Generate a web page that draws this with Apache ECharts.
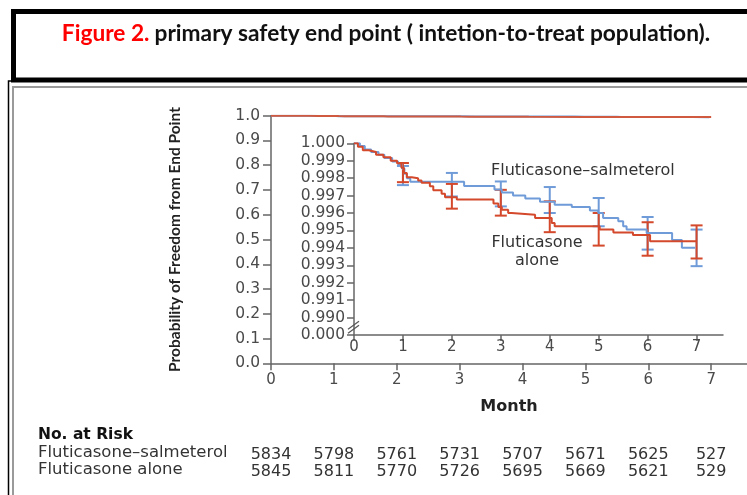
<!DOCTYPE html>
<html>
<head>
<meta charset="utf-8">
<title>Figure 2</title>
<script src="https://cdn.jsdelivr.net/npm/echarts@6.0.0/dist/echarts.min.js"></script>
<style>
  html, body { margin: 0; padding: 0; background: #fff; }
  #chart { width: 747px; height: 495px; }
</style>
</head>
<body>
<div id="chart"></div>
<script>
// months on the x axes
const months = [0, 1, 2, 3, 4, 5, 6, 7]

// Kaplan-Meier steps: [month of drop, survival after drop]
const salmeterolSteps = [
    [0, 1], [0.12, 0.99985], [0.22, 0.99965], [0.35, 0.9995], [0.5, 0.99935],
    [0.62, 0.99915], [0.78, 0.99895], [0.9, 0.9988], [0.98, 0.99855], [1.03, 0.99825],
    [1.08, 0.998], [1.15, 0.9978], [2.25, 0.99755], [2.87, 0.99735], [3.02, 0.99718],
    [3.25, 0.997], [3.5, 0.99683], [3.8, 0.99665], [4.1, 0.99648], [4.45, 0.99635],
    [4.82, 0.99615], [4.99, 0.996], [5.09, 0.99572], [5.4, 0.99552], [5.5, 0.99524],
    [5.57, 0.99505], [5.98, 0.99486], [6.5, 0.99445], [6.7, 0.994], [6.97, 0.994]
]
const aloneSteps = [
    [0, 1], [0.08, 0.9998], [0.18, 0.9996], [0.3, 0.9995], [0.45, 0.99935],
    [0.6, 0.9992], [0.75, 0.999], [0.88, 0.99885], [0.97, 0.9986], [1.02, 0.9983],
    [1.08, 0.99805], [1.18, 0.998], [1.31, 0.99787], [1.38, 0.99773], [1.55, 0.99754],
    [1.62, 0.9973], [1.79, 0.9971], [1.86, 0.99691], [2.1, 0.99678], [2.85, 0.99655],
    [2.95, 0.99635], [3.02, 0.99619], [3.15, 0.996], [3.22, 0.9959], [3.7, 0.99571],
    [4.04, 0.99543], [4.1, 0.99524], [5.02, 0.99505], [5.3, 0.99488], [5.7, 0.99474],
    [6.05, 0.99438], [7.0, 0.99438]
]

// 95% CI bars: [month, low, high]
const salmeterolCI = [
    [1, 0.9976, 0.9987], [2, 0.99695, 0.9983], [3, 0.99638, 0.99781], [4, 0.996, 0.99749],
    [5, 0.99524, 0.99686], [6, 0.9939, 0.99577], [7, 0.99295, 0.99505]
]
const aloneCI = [
    [1, 0.99777, 0.99887], [2, 0.99625, 0.99767], [3, 0.99585, 0.99733], [4, 0.9949, 0.99667],
    [5, 0.99413, 0.996], [6, 0.99355, 0.99547], [7, 0.99339, 0.99529]
]

// numbers at risk
const riskSalmeterol = ['5834', '5798', '5761', '5731', '5707', '5671', '5625', '527']
const riskAlone = ['5845', '5811', '5770', '5726', '5695', '5669', '5621', '529']

const blue = '#6f9bd8'
const red = '#d4482b'
const axisGray = '#666'
const labelGray = '#4a4a4a'
const font = '"DejaVu Sans"'
const boldFont = 'Lato'

function ciBar(color) {
    return function (params, api) {
        const x = api.value(0)
        const top = api.coord([x, api.value(2)])
        const bot = api.coord([x, api.value(1)])
        const w = 6
        const style = { stroke: color, lineWidth: 2 }
        return {
            type: 'group',
            children: [
                { type: 'line', shape: { x1: top[0], y1: top[1], x2: bot[0], y2: bot[1] }, style },
                { type: 'line', shape: { x1: top[0] - w, y1: top[1], x2: top[0] + w, y2: top[1] }, style },
                { type: 'line', shape: { x1: bot[0] - w, y1: bot[1], x2: bot[0] + w, y2: bot[1] }, style }
            ]
        }
    }
}

let myChart = echarts.init(document.getElementById('chart'))
let option = {
    backgroundColor: '#FFFFFF',
    animation: false,
    title: {
        text: '{r|Figure 2.} {b|primary safety end point ( intetion-to-treat population).}',
        left: 381,
        textAlign: 'center',
        top: 17,
        textStyle: {
            rich: {
                r: { color: '#ff0000', fontFamily: boldFont, fontWeight: 'bold', fontSize: 22.7 },
                b: { color: '#111', fontFamily: boldFont, fontWeight: 'bold', fontSize: 22.7 }
            }
        }
    },
    graphic: [
        { type: 'rect', z: -1, shape: { x: 13.5, y: 11.5, width: 800, height: 68.5 },
          style: { fill: 'none', stroke: '#000', lineWidth: 5 } },
        { type: 'polyline', z: -1, shape: { points: [[8.5, 520], [8.5, 81], [760, 81]] },
          style: { fill: 'none', stroke: '#000', lineWidth: 1.5 } },
        { type: 'polyline', z: -1, shape: { points: [[13, 520], [13, 87], [760, 87]] },
          style: { fill: 'none', stroke: '#9a9a9a', lineWidth: 2 } },
        { type: 'text', x: 38, y: 435,
          style: { text: 'No. at Risk', fill: '#111', font: 'bold 15.5px ' + font, verticalAlign: 'middle' } },
        { type: 'text', x: 38, y: 453,
          style: { text: 'Fluticasone\u2013salmeterol', fill: '#333', font: '16.5px ' + font, verticalAlign: 'middle' } },
        { type: 'text', x: 38, y: 470,
          style: { text: 'Fluticasone alone', fill: '#333', font: '16.5px ' + font, verticalAlign: 'middle' } },
        { type: 'text', x: 491, y: 171,
          style: { text: 'Fluticasone\u2013salmeterol', fill: '#333', font: '16px ' + font, verticalAlign: 'middle' } },
        { type: 'text', x: 537, y: 234,
          style: { text: 'Fluticasone\nalone', fill: '#333', font: '16px ' + font, align: 'center', verticalAlign: 'top', lineHeight: 18 } }
    ],
    grid: [
        { left: 271, top: 115.7, width: 476, height: 247.6 },
        { left: 354, top: 143.3, width: 369, height: 191.7 }
    ],
    xAxis: [
        {
            gridIndex: 0, type: 'value', min: 0, max: 7.57,
            name: 'Month', nameLocation: 'middle', nameGap: 36,
            nameTextStyle: { color: '#222', fontFamily: font, fontWeight: 'bold', fontSize: 16 },
            axisLine: { lineStyle: { color: axisGray, width: 1.5 } },
            axisTick: { customValues: months, length: 7, lineStyle: { color: axisGray, width: 1.5 } },
            axisLabel: { customValues: months, margin: 9, color: labelGray, fontFamily: font, fontSize: 15 },
            splitLine: { show: false }
        },
        {
            gridIndex: 1, type: 'value', min: 0, max: 7.54,
            axisLine: { lineStyle: { color: axisGray, width: 1.5 } },
            axisTick: { customValues: months, length: 6, lineStyle: { color: axisGray, width: 1.5 } },
            axisLabel: { customValues: months, margin: 5, color: labelGray, fontFamily: font, fontSize: 15 },
            splitLine: { show: false }
        },
        {
            gridIndex: 0, type: 'value', min: 0, max: 7.57, position: 'bottom', offset: 75,
            axisLine: { show: false }, axisTick: { show: false }, splitLine: { show: false },
            axisLabel: {
                customValues: months, margin: 9, color: '#333', fontFamily: font, fontSize: 16,
                formatter: v => riskSalmeterol[v]
            }
        },
        {
            gridIndex: 0, type: 'value', min: 0, max: 7.57, position: 'bottom', offset: 92,
            axisLine: { show: false }, axisTick: { show: false }, splitLine: { show: false },
            axisLabel: {
                customValues: months, margin: 9, color: '#333', fontFamily: font, fontSize: 16,
                formatter: v => riskAlone[v]
            }
        }
    ],
    yAxis: [
        {
            gridIndex: 0, type: 'value', min: 0, max: 1, interval: 0.1,
            name: 'Probability of Freedom from End Point', nameLocation: 'middle', nameGap: 88,
            nameTextStyle: { color: '#222', fontFamily: boldFont, fontWeight: 'bold', fontSize: 15.5 },
            axisLine: { show: true, lineStyle: { color: axisGray, width: 1.5 } },
            axisTick: { show: true, length: 8, lineStyle: { color: axisGray, width: 1.5 } },
            axisLabel: { margin: 11, color: labelGray, fontFamily: font, fontSize: 15.5,
                formatter: v => v.toFixed(1) },
            splitLine: { show: false }
        },
        {
            gridIndex: 1, type: 'value', min: 0.989, max: 1, interval: 0.001,
            axisLine: { show: true, lineStyle: { color: axisGray, width: 1.5 } },
            axisTick: { show: true, length: 7, lineStyle: { color: axisGray, width: 1.5 } },
            axisLabel: { margin: 9, color: labelGray, fontFamily: font, fontSize: 15.5,
                formatter: v => (v < 0.9895 ? '0.000' : v.toFixed(3)) },
            splitLine: { show: false }
        }
    ],
    series: [
        {
            name: 'Fluticasone\u2013salmeterol main', type: 'line', step: 'end',
            xAxisIndex: 0, yAxisIndex: 0, data: salmeterolSteps, showSymbol: false,
            lineStyle: { color: blue, width: 2 }
        },
        {
            name: 'Fluticasone alone main', type: 'line', step: 'end',
            xAxisIndex: 0, yAxisIndex: 0, data: aloneSteps, showSymbol: false,
            lineStyle: { color: '#cf5a40', width: 2 }
        },
        {
            name: 'Fluticasone\u2013salmeterol', type: 'line', step: 'end',
            xAxisIndex: 1, yAxisIndex: 1, data: salmeterolSteps, showSymbol: false,
            lineStyle: { color: blue, width: 2 }
        },
        {
            name: 'Fluticasone alone', type: 'line', step: 'end',
            xAxisIndex: 1, yAxisIndex: 1, data: aloneSteps, showSymbol: false,
            lineStyle: { color: red, width: 2 }
        },
        {
            type: 'custom', xAxisIndex: 1, yAxisIndex: 1, data: salmeterolCI,
            renderItem: ciBar(blue), clip: false
        },
        {
            type: 'custom', xAxisIndex: 1, yAxisIndex: 1, data: aloneCI,
            renderItem: ciBar(red), clip: false
        },
        {
            // axis break mark
            type: 'custom', xAxisIndex: 1, yAxisIndex: 1, data: [[0, 0.98945]], clip: false, z: 5,
            renderItem: function (params, api) {
                const p = api.coord([api.value(0), api.value(1)])
                const style = { stroke: '#555', lineWidth: 1.2 }
                return {
                    type: 'group',
                    children: [
                        { type: 'line', shape: { x1: p[0] - 6, y1: p[1] + 2, x2: p[0] + 5, y2: p[1] - 6 }, style },
                        { type: 'line', shape: { x1: p[0] - 6, y1: p[1] + 6, x2: p[0] + 5, y2: p[1] - 2 }, style }
                    ]
                }
            }
        }
    ]
}
myChart.setOption(option)
window.addEventListener('resize', function () {
    myChart.resize()
})
</script>
</body>
</html>
